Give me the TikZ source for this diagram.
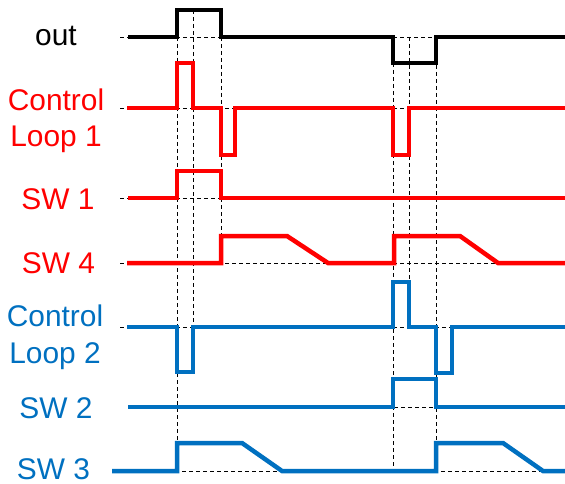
\documentclass[tikz,border=0pt]{standalone}
\usepackage{fontspec}
\setmainfont{Liberation Sans}
\definecolor{sigred}{RGB}{255,0,0}
\definecolor{sigblue}{RGB}{0,112,192}
\begin{document}
\begin{tikzpicture}[x=1bp,y=-1bp,
  sig/.style={line width=4.5bp, line join=miter, line cap=butt},
  guide/.style={black, line width=0.9bp, dash pattern=on 4bp off 3bp},
  lbl/.style={font=\fontsize{30}{37}\selectfont, align=center, inner sep=0pt, anchor=base}]
\useasboundingbox (0,0) rectangle (565,484);
% baseline guides (dashed)
\draw[guide] (120,37) -- (565,37);
\draw[guide] (120,108) -- (565,108);
\draw[guide] (120,198) -- (565,198);
\draw[guide] (120,263) -- (565,263);
\draw[guide] (120,327) -- (565,327);
\draw[guide] (128,407) -- (565,407);
\draw[guide] (112,471) -- (565,471);
% vertical guides
\draw[guide] (177,37) -- (177,443);
\draw[guide] (193,10) -- (193,327);
\draw[guide] (221,37) -- (221,236);
\draw[guide] (393,63) -- (393,471);
\draw[guide] (409,37) -- (409,282);
\draw[guide] (436,37) -- (436,443);
% signals
\draw[sig, black] (128,37) -- (177,37) -- (177,10) -- (221,10) -- (221,37) -- (393,37) -- (393,63) -- (436,63) -- (436,37) -- (565,37);
\draw[sig, sigred] (127,108) -- (177,108) -- (177,63) -- (193,63) -- (193,108) -- (221,108) -- (221,155) -- (235,155) -- (235,108) -- (393,108) -- (393,155) -- (409,155) -- (409,108) -- (565,108);
\draw[sig, sigred] (128,198) -- (177,198) -- (177,171) -- (221,171) -- (221,198) -- (565,198);
\draw[sig, sigred] (127,263) -- (221,263) -- (221,236) -- (287,236) -- (328,263) -- (394,263) -- (394,236) -- (460,236) -- (498,263) -- (565,263);
\draw[sig, sigblue] (127,327) -- (177,327) -- (177,372) -- (193,372) -- (193,327) -- (393,327) -- (393,282) -- (409,282) -- (409,327) -- (436,327) -- (436,373) -- (452,373) -- (452,327) -- (565,327);
\draw[sig, sigblue] (128,407) -- (393,407) -- (393,379) -- (436,379) -- (436,407) -- (565,407);
\draw[sig, sigblue] (112,471) -- (177,471) -- (177,443) -- (242,443) -- (282,471) -- (436,471) -- (436,443) -- (503,443) -- (543,471) -- (565,471);
% labels
\node[lbl, text=black] (out) at (56,46) {out};
\node[lbl, text=sigred] (cl1) at (56,147) {Control\\Loop 1};
\node[lbl, text=sigred] (sw1) at (58,210) {SW 1};
\node[lbl, text=sigred] (sw4) at (58.5,273) {SW 4};
\node[lbl, text=sigblue] (cl2) at (55,363) {Control\\Loop 2};
\node[lbl, text=sigblue] (sw2) at (56,418) {SW 2};
\node[lbl, text=sigblue] (sw3) at (53.5,479) {SW 3};
\end{tikzpicture}
\end{document}
